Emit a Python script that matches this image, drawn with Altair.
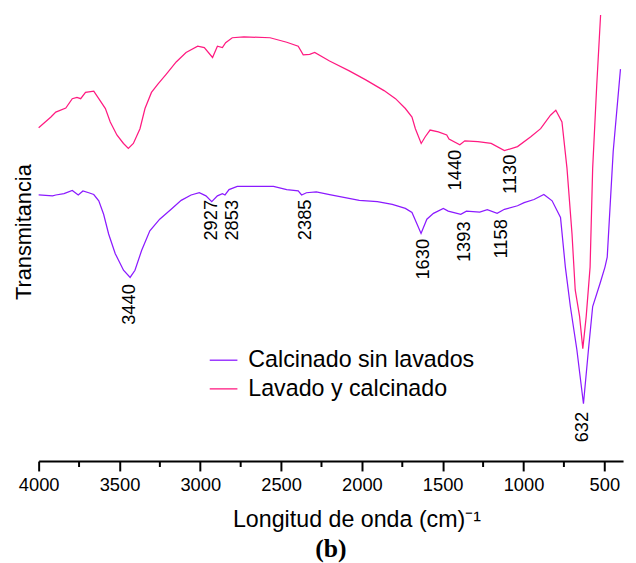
import altair as alt
import pandas as pd

# ---- data (wavenumber cm^-1, transmittance a.u.) ----
series_names = ["Calcinado sin lavados", "Lavado y calcinado"]
series_colors = ["#8b1aff", "#ff1a80"]

wn_calc = [4000, 3914, 3894, 3843, 3792, 3755, 3726, 3690, 3659, 3628, 3598, 3567, 3526, 3475, 3434,
           3404, 3363, 3312, 3251, 3180, 3118, 3057, 3006, 2965, 2929, 2894, 2863, 2847, 2822, 2771,
           2547, 2465, 2394, 2373, 2343, 2282, 2200, 2016, 1904, 1812, 1731, 1690, 1659, 1634, 1598,
           1557, 1496, 1466, 1388, 1353, 1271, 1224, 1163, 1118, 1037, 996, 935, 874, 823, 771,
           741, 710, 670, 629, 598, 572, 526, 496, 482, 445, 400]
t_calc = [59.4, 59.2, 59.4, 59.7, 60.4, 59.4, 60.3, 59.9, 59.5, 58.1, 55.1, 50.7, 46.3, 42.6, 41.0,
          42.6, 47.0, 51.4, 54.0, 56.2, 58.2, 59.4, 59.9, 59.2, 57.9, 59.2, 59.7, 59.4, 60.6, 61.3,
          61.3, 60.6, 60.3, 59.4, 59.9, 60.1, 59.5, 58.2, 57.9, 57.3, 56.4, 55.5, 52.9, 50.8, 54.0,
          55.3, 56.4, 55.8, 55.1, 55.8, 55.6, 56.1, 55.3, 56.2, 57.0, 57.7, 58.4, 59.5, 58.1, 54.4,
          43.3, 34.5, 24.9, 12.8, 24.9, 34.5, 39.7, 43.3, 45.5, 69.1, 87.5]

wn_lav = [4000, 3924, 3894, 3832, 3792, 3763, 3740, 3710, 3659, 3628, 3587, 3557, 3516, 3475, 3445,
          3414, 3373, 3342, 3302, 3261, 3210, 3149, 3088, 3016, 2975, 2924, 2894, 2863, 2843, 2802,
          2730, 2568, 2465, 2394, 2363, 2323, 2292, 2200, 2078, 1976, 1863, 1792, 1731, 1690, 1669,
          1633, 1608, 1578, 1527, 1475, 1461, 1394, 1363, 1282, 1200, 1118, 1037, 955, 894, 833,
          800, 762, 731, 700, 680, 653, 633, 612, 588, 572, 547, 523]
t_lav = [74.4, 76.8, 77.9, 78.8, 80.9, 81.2, 80.9, 82.3, 82.6, 80.9, 78.7, 75.7, 72.8, 70.9, 69.8,
         70.9, 74.2, 78.7, 82.3, 84.2, 86.4, 89.1, 91.2, 92.6, 92.3, 90.1, 92.6, 92.3, 93.4, 94.5,
         94.7, 94.5, 93.5, 92.6, 90.7, 90.8, 91.2, 89.3, 87.1, 85.1, 82.7, 80.9, 78.7, 76.8, 74.2,
         70.9, 72.4, 73.9, 73.5, 72.8, 71.9, 70.6, 71.5, 71.3, 70.9, 69.3, 70.2, 72.4, 74.2, 77.2,
         78.3, 75.7, 65.4, 50.8, 38.2, 32.3, 25.1, 32.3, 43.3, 65.4, 83.8, 99.6]

peak_labels = ["3440", "2927", "2853", "2385", "1630", "1393", "1158", "632", "1440", "1130"]
peak_wn = [3440, 2932, 2802, 2349, 1619, 1365, 1139, 639, 1424, 1086]
peak_t = [39.5, 58.3, 58.3, 58.4, 49.6, 53.5, 54.0, 11.0, 69.5, 68.4]

major_ticks = [4000, 3500, 3000, 2500, 2000, 1500, 1000, 500]
minor_ticks = [3750, 3250, 2750, 2250, 1750, 1250, 750]

# ---- tables ----
rows = []
for w, t in zip(wn_calc, t_calc):
    rows.append({"wn": w, "T": t, "serie": series_names[0]})
for w, t in zip(wn_lav, t_lav):
    rows.append({"wn": w, "T": t, "serie": series_names[1]})
df = pd.DataFrame(rows)
minor_df = pd.DataFrame({"wn": minor_ticks})
lab_df = pd.DataFrame({"wn": peak_wn, "T": peak_t, "txt": peak_labels})

FONT = "Liberation Sans"

x_enc = alt.X(
    "wn:Q",
    scale=alt.Scale(domain=[4000, 384], nice=False, zero=False),
    axis=alt.Axis(
        values=major_ticks, format="d", title="Longitud de onda (cm)\u207b\u00b9",
        domainColor="black", domainWidth=2, tickColor="black", tickWidth=2, tickSize=10,
        labelFont=FONT, labelFontSize=18.5, labelColor="black", labelPadding=5,
        labelFlush=False, labelOverlap=False,
        titleFont=FONT, titleFontSize=23.5, titleFontWeight="normal", titleColor="black",
        titlePadding=14, titleAlign="left", titleX=196, grid=False,
    ),
)
y_enc = alt.Y(
    "T:Q",
    scale=alt.Scale(domain=[0, 100], nice=False, zero=False),
    axis=alt.Axis(
        title="Transmitancia", domain=False, ticks=False, labels=False, grid=False,
        titleFont=FONT, titleFontSize=22, titleFontWeight="normal", titleColor="black",
        titlePadding=3, titleY=221,
    ),
)

lines = alt.Chart(df).mark_line(strokeWidth=1.25).encode(
    x=x_enc,
    y=y_enc,
    color=alt.Color(
        "serie:N",
        scale=alt.Scale(domain=series_names, range=series_colors),
        legend=alt.Legend(
            title=None, orient="none", legendX=172, legendY=336,
            symbolType="stroke", symbolSize=784, symbolStrokeWidth=1.3,
            labelFont=FONT, labelFontSize=23.5, labelColor="black", labelOffset=10,
            rowPadding=2, padding=0, labelLimit=500,
        ),
    ),
)

minor = alt.Chart(minor_df).mark_rule(color="black", strokeWidth=2).encode(
    x=x_enc, y=alt.value(453), y2=alt.value(459)
)

peaks = alt.Chart(lab_df).mark_text(
    angle=270, align="right", baseline="middle", font=FONT, fontSize=18.5, color="black"
).encode(x=x_enc, y=y_enc, text="txt:N")

chart = alt.layer(lines, minor, peaks).properties(
    width=591,
    height=453,
    padding={"left": 31, "top": 2, "right": 5, "bottom": 108},
    autosize=alt.AutoSizeParams(type="none"),
    title=alt.TitleParams(
        "(b)", orient="bottom", anchor="middle", font="Liberation Serif",
        fontWeight="bold", fontSize=26, color="black", offset=5,
    ),
).configure_view(stroke=None)

chart.save("out.html", embed_options={"renderer": "svg", "actions": False})
